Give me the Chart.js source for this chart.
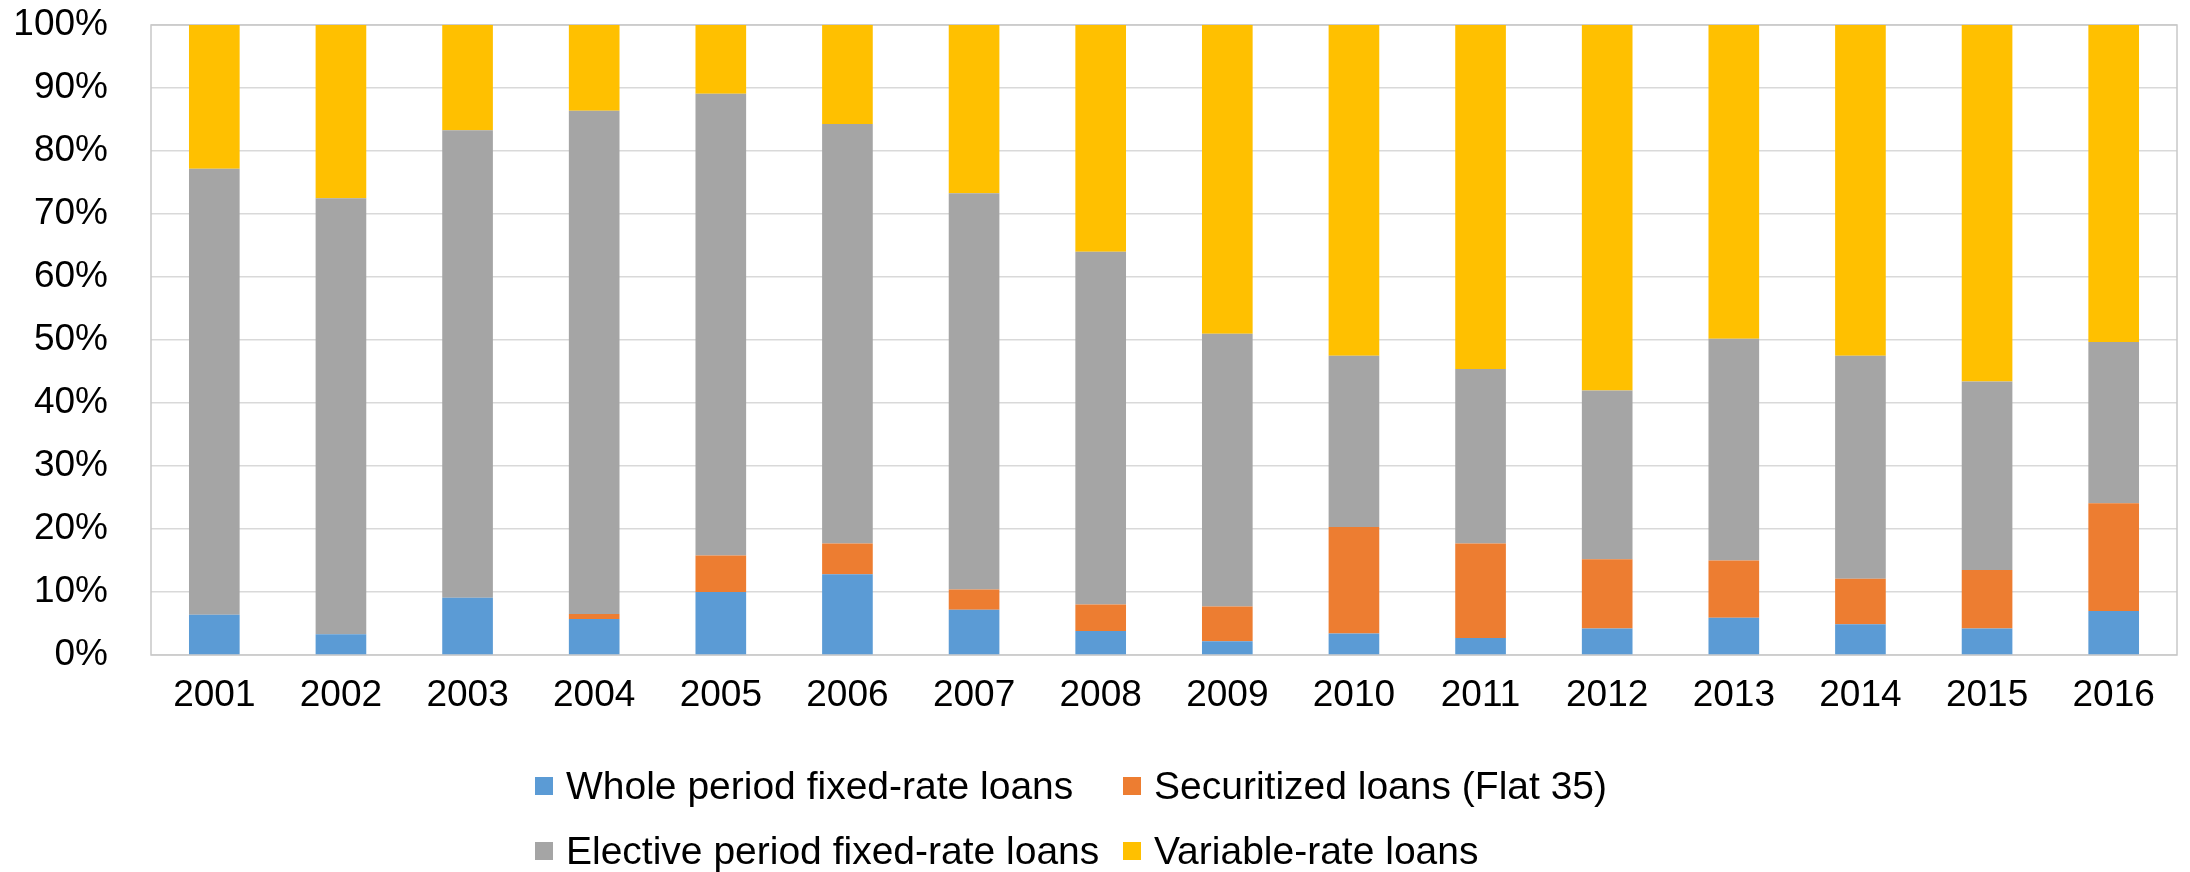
<!DOCTYPE html>
<html><head><meta charset="utf-8">
<script src="https://cdn.jsdelivr.net/npm/chart.js@4"></script>
<style>
html,body{margin:0;padding:0;background:#fff;}
#wrap{position:relative;width:2190px;height:872px;overflow:hidden;background:#fff}
#legend{position:absolute;left:535px;top:753px;display:grid;grid-template-columns:588px auto;grid-auto-rows:65px;font-family:'Liberation Sans',Arial,sans-serif;font-size:39px;color:#000}
.item{display:flex;align-items:center;white-space:nowrap}
.box{width:18px;height:18px;margin-right:13px;flex:none}
</style></head>
<body>
<div id="wrap">
<canvas id="c" width="2190" height="872"></canvas>
<div id="legend"></div>
</div>
<script>
const years = ['2001','2002','2003','2004','2005','2006','2007','2008','2009','2010','2011','2012','2013','2014','2015','2016'];
const wholeFixed = [6.4, 3.3, 9.1, 5.7, 10.0, 12.8, 7.2, 3.8, 2.2, 3.4, 2.7, 4.2, 5.9, 4.9, 4.2, 7.0];
const flat35 = [0, 0, 0, 0.8, 5.8, 4.9, 3.2, 4.2, 5.5, 16.9, 15.0, 11.0, 9.1, 7.2, 9.3, 17.1];
const electiveFixed = [70.8, 69.2, 74.2, 79.9, 73.3, 66.6, 62.9, 56.0, 43.3, 27.2, 27.7, 26.8, 35.2, 35.4, 29.9, 25.6];
const variableRate = [22.8, 27.5, 16.7, 13.6, 10.9, 15.7, 26.7, 36.0, 49.0, 52.5, 54.6, 58.0, 49.8, 52.5, 56.6, 50.3];
const yTickLabels = ['0%','10%','20%','30%','40%','50%','60%','70%','80%','90%','100%'];
const seriesNames = ['Whole period fixed-rate loans','Securitized loans (Flat 35)','Elective period fixed-rate loans','Variable-rate loans'];
const seriesColors = ['#5B9BD5','#ED7D31','#A5A5A5','#FFC000'];
const seriesData = [wholeFixed, flat35, electiveFixed, variableRate];

const FONT = "'Liberation Sans', Arial, sans-serif";

const borderPlugin = {
  id: 'plotBorder',
  beforeDatasetsDraw(chart) {
    const {ctx, chartArea: a} = chart;
    ctx.save();
    ctx.strokeStyle = '#c8c8c8';
    ctx.lineWidth = 1.5;
    ctx.strokeRect(a.left, a.top, a.right - a.left, a.bottom - a.top);
    ctx.restore();
  }
};

new Chart(document.getElementById('c'), {
  type: 'bar',
  data: {
    labels: years,
    datasets: seriesData.map((d, i) => ({
      label: seriesNames[i],
      data: d,
      backgroundColor: seriesColors[i],
      borderWidth: 0,
      barPercentage: 0.4,
      categoryPercentage: 1.0
    }))
  },
  options: {
    responsive: false,
    animation: false,
    devicePixelRatio: 1,
    layout: { padding: { left: 0, top: 25, right: 13, bottom: 157 } },
    plugins: { legend: { display: false }, tooltip: { enabled: false } },
    scales: {
      x: {
        stacked: true,
        grid: { display: false, drawTicks: false },
        border: { display: false },
        ticks: { color: '#000', font: { family: FONT, size: 37 }, padding: 19, maxRotation: 0, autoSkip: false },
        afterFit(scale) { scale.height = 60; scale.paddingLeft = 0; scale.paddingRight = 0; }
      },
      y: {
        stacked: true,
        min: 0, max: 100,
        grid: { color: '#d9d9d9', lineWidth: 1.5, drawTicks: false },
        border: { display: false },
        ticks: {
          stepSize: 10,
          color: '#000',
          font: { family: FONT, size: 37 },
          padding: 43,
          callback: (v) => yTickLabels[Math.round(v / 10)]
        },
        afterFit(scale) { scale.width = 151; scale.paddingTop = 0; scale.paddingBottom = 0; }
      }
    }
  },
  plugins: [borderPlugin]
});

const leg = document.getElementById('legend');
seriesNames.forEach((n, i) => {
  const it = document.createElement('div');
  it.className = 'item';
  const b = document.createElement('span');
  b.className = 'box';
  b.style.background = seriesColors[i];
  const t = document.createElement('span');
  t.textContent = n;
  it.appendChild(b); it.appendChild(t);
  leg.appendChild(it);
});
</script>
</body></html>
